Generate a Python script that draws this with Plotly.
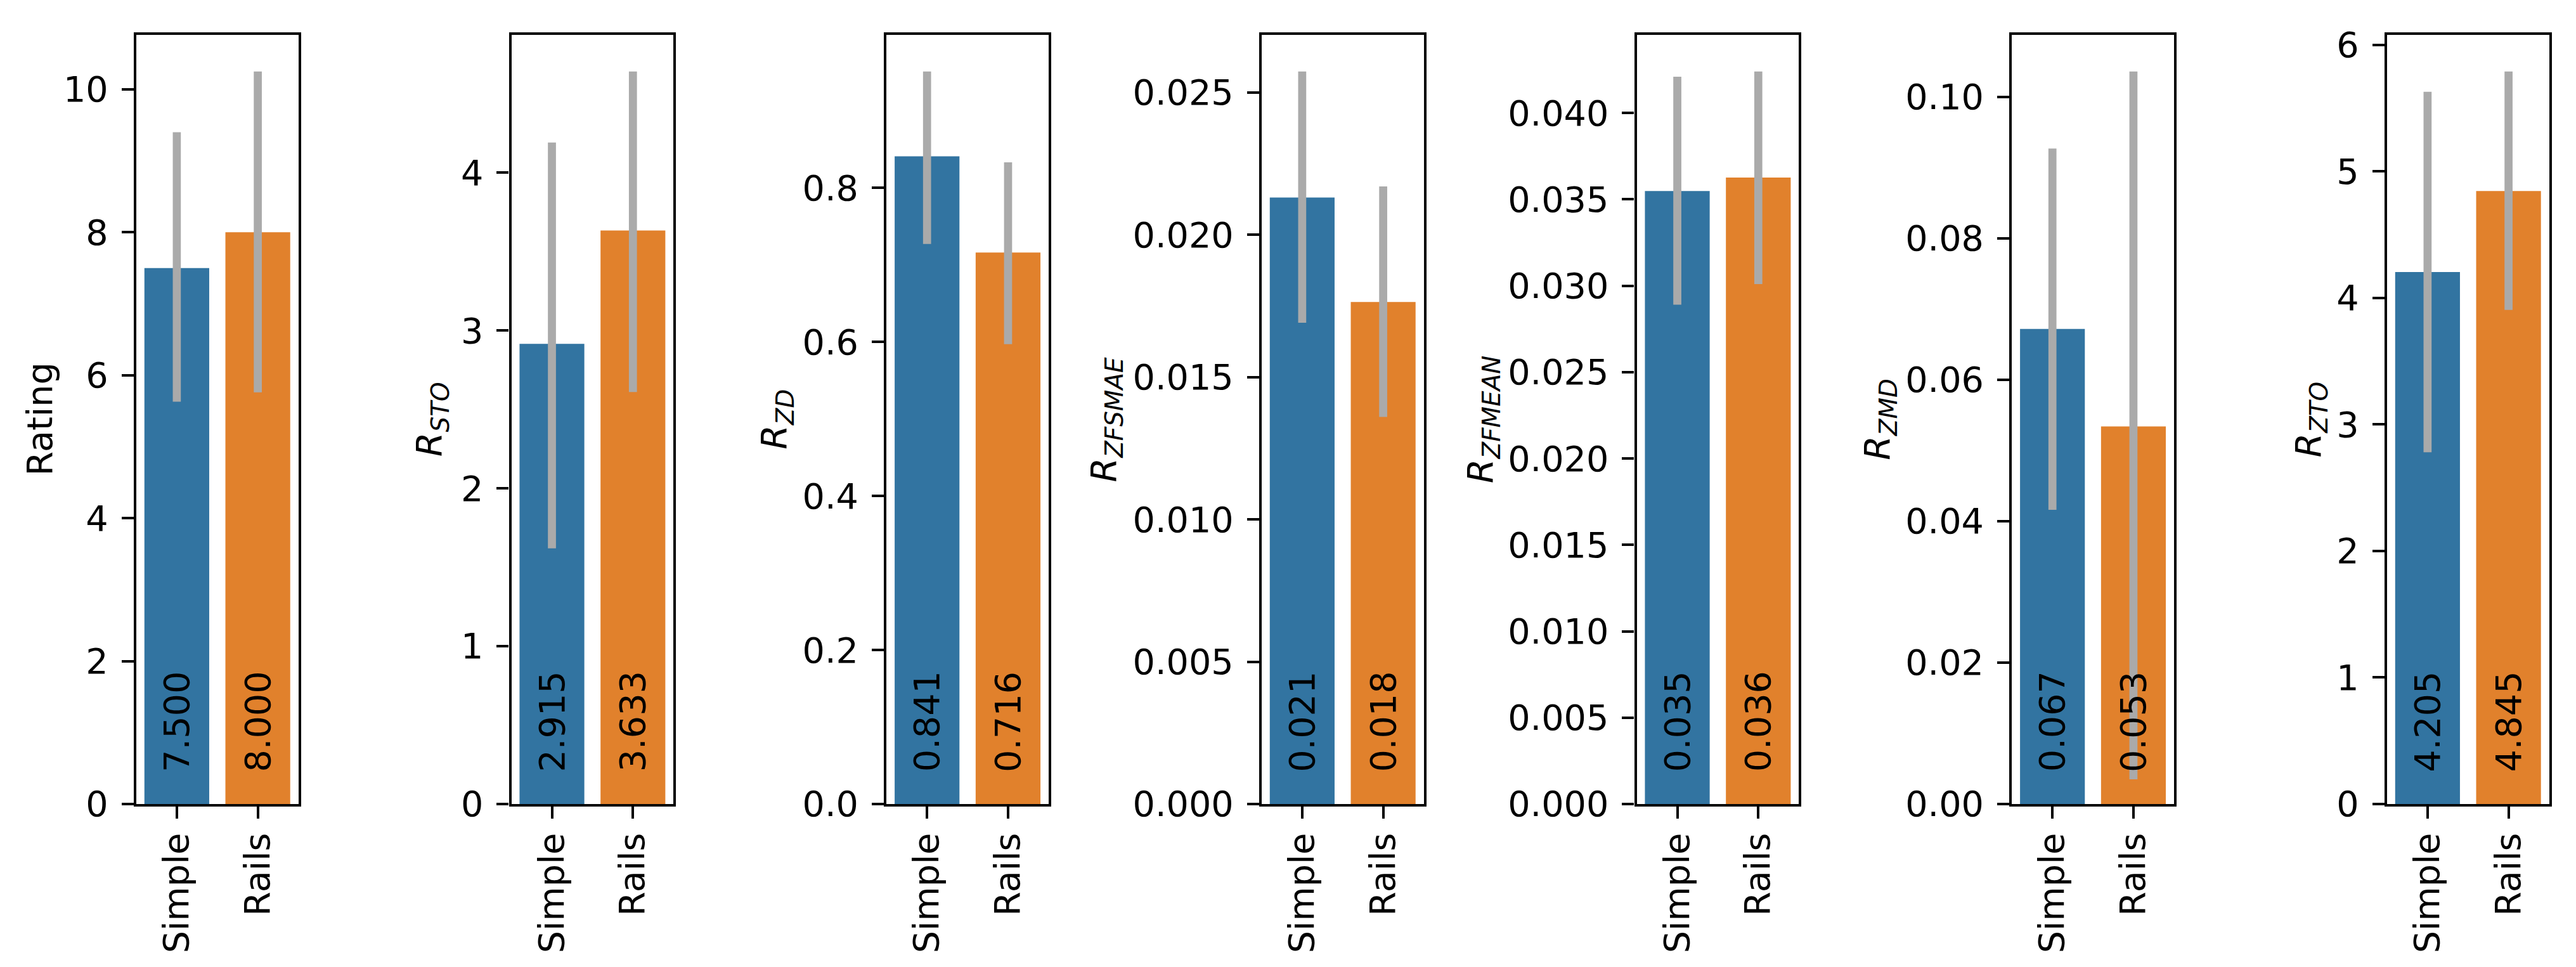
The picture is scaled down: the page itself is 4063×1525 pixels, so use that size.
import plotly.graph_objects as go

# ---------------- data ----------------
categories = ["Simple", "Rails"]

rating_mean = [7.500, 8.000]
rating_lo = [5.63, 5.76]
rating_hi = [9.40, 10.25]

rsto_mean = [2.915, 3.633]
rsto_lo = [1.62, 2.61]
rsto_hi = [4.19, 4.64]

rzd_mean = [0.841, 0.716]
rzd_lo = [0.727, 0.597]
rzd_hi = [0.951, 0.833]

rzfsmae_mean = [0.02131, 0.01764]
rzfsmae_lo = [0.01691, 0.0136]
rzfsmae_hi = [0.02574, 0.0217]

rzfmean_mean = [0.03548, 0.03626]
rzfmean_lo = [0.0289, 0.0301]
rzfmean_hi = [0.0421, 0.0424]

rzmd_mean = [0.0672, 0.0534]
rzmd_lo = [0.0416, 0.0035]
rzmd_hi = [0.0927, 0.1036]

rzto_mean = [4.205, 4.845]
rzto_lo = [2.78, 3.906]
rzto_hi = [5.63, 5.79]

ylabels = [
    "Rating",
    "<i>R</i><sub><i>STO</i></sub>",
    "<i>R</i><sub><i>ZD</i></sub>",
    "<i>R</i><sub><i>ZFSMAE</i></sub>",
    "<i>R</i><sub><i>ZFMEAN</i></sub>",
    "<i>R</i><sub><i>ZMD</i></sub>",
    "<i>R</i><sub><i>ZTO</i></sub>",
]

# ---------------- style / layout ----------------
W, H = 4063, 1525
FONT = "DejaVu Sans"
FS = 55.6
bar_colors = ["#3274a1", "#e1812c"]
err_color = "#aaaaaa"

panels = [
    (rating_mean, rating_lo, rating_hi, 2, ",d"),
    (rsto_mean, rsto_lo, rsto_hi, 1, ",d"),
    (rzd_mean, rzd_lo, rzd_hi, 0.2, ".1f"),
    (rzfsmae_mean, rzfsmae_lo, rzfsmae_hi, 0.005, ".3f"),
    (rzfmean_mean, rzfmean_lo, rzfmean_hi, 0.005, ".3f"),
    (rzmd_mean, rzmd_lo, rzmd_hi, 0.02, ".2f"),
    (rzto_mean, rzto_lo, rzto_hi, 1, ",d"),
]
label_offsets = [153, 126, 174, 246, 243, 209, 121]  # px left of axes box

left0 = 207.0
step = (3757.0 - 207.0) / 6
axw = 255.5
top_px, bottom_px = 47.0, 1260.0
ydom = [(H - bottom_px) / H, (H - top_px) / H]

fig = go.Figure()
annotations = []

for i, (mean, lo, hi, dtick, fmt) in enumerate(panels):
    n = i + 1
    xa = "x" if n == 1 else f"x{n}"
    ya = "y" if n == 1 else f"y{n}"
    left = left0 + i * step
    xdom = [left / W, (left + axw) / W]

    fig.add_trace(go.Bar(
        x=categories, y=mean,
        marker=dict(color=bar_colors, line=dict(width=0)),
        error_y=dict(type="data", symmetric=False,
                     array=[h - m for h, m in zip(hi, mean)],
                     arrayminus=[m - l for m, l in zip(mean, lo)],
                     color=err_color, thickness=12.7, width=0),
        xaxis=xa, yaxis=ya, showlegend=False,
    ))

    ymax = max(hi) * 1.05
    axis_common = dict(
        showline=True, linecolor="black", linewidth=4.4, mirror=True,
        ticks="outside", ticklen=19, tickwidth=4.4, tickcolor="black",
        showgrid=False, zeroline=False,
        tickfont=dict(family=FONT, size=FS, color="black"),
    )
    fig.update_layout(**{
        ("xaxis" if n == 1 else f"xaxis{n}"): dict(
            domain=xdom, anchor=ya, range=[-0.5, 1.5], type="category",
            tickangle=-90, ticklabelstandoff=0, **axis_common),
        ("yaxis" if n == 1 else f"yaxis{n}"): dict(
            domain=ydom, anchor=xa, range=[0, ymax], dtick=dtick, tick0=0,
            tickformat=fmt, ticklabelstandoff=10, **axis_common),
    })

    # value labels
    for c, m in zip(categories, mean):
        annotations.append(dict(
            x=c, xref=xa, y=0.04, yref=f"{ya} domain",
            text=f"{m:.3f}", textangle=-90, showarrow=False,
            xanchor="center", yanchor="bottom",
            font=dict(family=FONT, size=FS, color="black"),
        ))
    # y labels
    annotations.append(dict(
        x=(left - label_offsets[i]) / W, xref="paper",
        y=(ydom[0] + ydom[1]) / 2, yref="paper",
        text=ylabels[i], textangle=-90, showarrow=False,
        xanchor="center", yanchor="middle",
        font=dict(family=FONT, size=FS, color="black"),
    ))

fig.update_layout(
    width=W, height=H,
    margin=dict(l=0, r=0, t=0, b=0),
    template="none",
    paper_bgcolor="white", plot_bgcolor="white",
    bargap=0.2,
    annotations=annotations,
    font=dict(family=FONT, size=FS, color="black"),
)

fig.write_html("out.html")
